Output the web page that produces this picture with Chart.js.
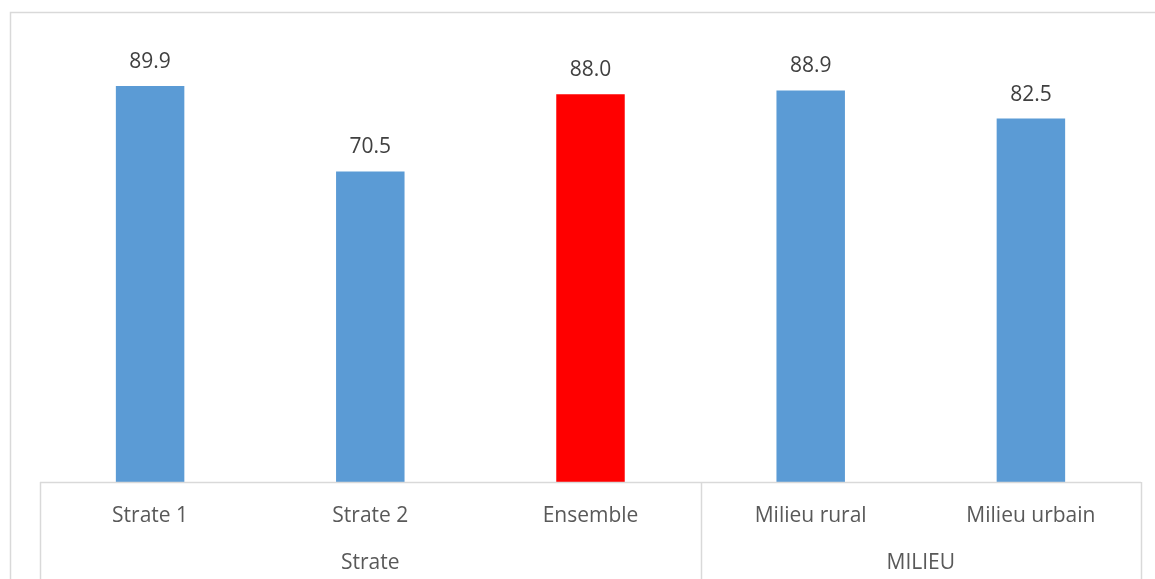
<!DOCTYPE html>
<html>
<head>
<meta charset="utf-8">
<script src="https://cdn.jsdelivr.net/npm/chart.js@4.4.0/dist/chart.umd.min.js"></script>
<style>
  html, body { margin: 0; padding: 0; background: #ffffff; }
  #wrap { width: 1155px; height: 579px; position: relative; }
</style>
</head>
<body>
<div id="wrap"><canvas id="c" width="1155" height="579"></canvas></div>
<script>
const categories = ["Strate 1", "Strate 2", "Ensemble", "Milieu rural", "Milieu urbain"];
const values = [89.9, 70.5, 88.0, 88.9, 82.5];
const barColors = ["#5B9BD5", "#5B9BD5", "#FF0000", "#5B9BD5", "#5B9BD5"];
const groupNames = ["Strate", "MILIEU"];
const groupStarts = [0, 3];
const groupEnds = [2, 4];

const FONT = "'Open Sans', 'Noto Sans', sans-serif";
const LINE = "#D9D9D9";

const decor = {
  id: "decor",
  beforeDraw(chart) {
    const ctx = chart.ctx;
    ctx.save();
    ctx.fillStyle = "#ffffff";
    ctx.fillRect(0, 0, chart.width, chart.height);
    ctx.strokeStyle = LINE;
    ctx.lineWidth = 1.5;
    ctx.beginPath();
    ctx.moveTo(10.5, chart.height + 2);
    ctx.lineTo(10.5, 12.5);
    ctx.lineTo(chart.width + 2, 12.5);
    ctx.stroke();
    ctx.restore();
  },
  afterDraw(chart) {
    const ctx = chart.ctx;
    const x = chart.scales.x;
    const area = chart.chartArea;
    const half = (x.getPixelForValue(1) - x.getPixelForValue(0)) / 2;
    ctx.save();
    ctx.strokeStyle = LINE;
    ctx.lineWidth = 1.5;
    // axis line
    ctx.beginPath();
    ctx.moveTo(area.left, area.bottom + 0.5);
    ctx.lineTo(area.right, area.bottom + 0.5);
    ctx.stroke();
    // group separators
    const seps = [x.getPixelForValue(0) - half];
    groupEnds.forEach(e => seps.push(x.getPixelForValue(e) + half));
    ctx.beginPath();
    seps.forEach(px => {
      ctx.moveTo(Math.round(px) + 0.5, area.bottom);
      ctx.lineTo(Math.round(px) + 0.5, chart.height);
    });
    ctx.stroke();
    // group labels
    ctx.fillStyle = "#595959";
    ctx.font = "21px " + FONT;
    ctx.textAlign = "center";
    ctx.textBaseline = "alphabetic";
    groupNames.forEach((g, i) => {
      const cx = (x.getPixelForValue(groupStarts[i]) + x.getPixelForValue(groupEnds[i])) / 2;
      ctx.fillText(g, cx, area.bottom + 87);
    });
    // data labels
    const meta = chart.getDatasetMeta(0);
    ctx.fillStyle = "#404040";
    meta.data.forEach((bar, i) => {
      ctx.fillText(values[i].toFixed(1), bar.x, bar.y - 18);
    });
    ctx.restore();
  }
};

new Chart(document.getElementById("c"), {
  type: "bar",
  data: {
    labels: categories,
    datasets: [{
      data: values,
      backgroundColor: barColors,
      borderWidth: 0,
      categoryPercentage: 1.0,
      barPercentage: 0.311
    }]
  },
  options: {
    responsive: false,
    animation: false,
    devicePixelRatio: 1,
    layout: { padding: { left: 40, right: 14, top: 41.5, bottom: 0 } },
    plugins: { legend: { display: false }, tooltip: { enabled: false } },
    scales: {
      y: { display: false, min: 0, max: 100 },
      x: {
        grid: { display: false, drawTicks: false },
        border: { display: false },
        ticks: { color: "#595959", font: { family: FONT, size: 21 }, padding: 21, maxRotation: 0, autoSkip: false },
        afterFit(scale) { scale.height = 97; }
      }
    }
  },
  plugins: [decor]
});
</script>
</body>
</html>
